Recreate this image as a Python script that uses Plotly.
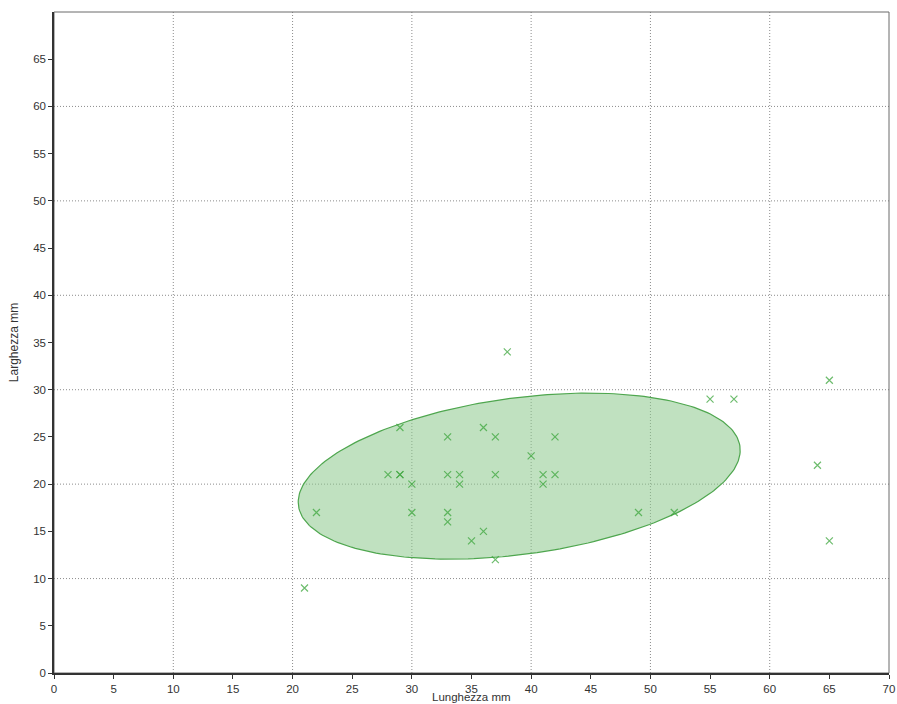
import numpy as np
import plotly.graph_objects as go

# Data (Lunghezza mm, Larghezza mm)
lunghezza = [21, 22, 28, 29, 29, 29, 30, 30, 33, 33, 33, 33, 34, 34, 35, 36, 36,
             37, 37, 37, 38, 40, 41, 41, 42, 42, 49, 52, 55, 57, 64, 65, 65]
larghezza = [9, 17, 21, 26, 21, 21, 20, 17, 25, 21, 17, 16, 21, 20, 14, 26, 15,
             25, 21, 12, 34, 23, 21, 20, 25, 21, 17, 17, 29, 29, 22, 31, 14]

x_ticks = list(range(0, 75, 5))
y_ticks = list(range(0, 70, 5))
grid_vals = [10, 20, 30, 40, 50, 60]
ellipse_scale = 1.6

# Covariance ellipse computed from the data
xa = np.array(lunghezza, float)
ya = np.array(larghezza, float)
cov = np.cov(xa, ya)
vals, vecs = np.linalg.eigh(cov)
t = np.linspace(0, 2 * np.pi, 241)
circle = np.vstack([np.cos(t), np.sin(t)])
pts = vecs @ (np.sqrt(vals)[:, None] * circle) * ellipse_scale
ex = pts[0] + xa.mean()
ey = pts[1] + ya.mean()

fig = go.Figure()
fig.add_trace(go.Scatter(
    x=ex, y=ey, mode="lines", fill="toself",
    fillcolor="rgba(140,200,140,0.55)",
    line=dict(color="#4ea64e", width=1.2),
    hoverinfo="skip", showlegend=False))
fig.add_trace(go.Scatter(
    x=lunghezza, y=larghezza, mode="markers",
    marker=dict(symbol="x-thin", size=7,
                line=dict(width=1.2, color="rgba(60,165,60,0.75)"),
                color="rgba(60,165,60,0.75)"),
    showlegend=False))

grid_line = dict(color="#8c8c8c", width=1, dash="1px,2px")
shapes = []
for g in grid_vals:
    shapes.append(dict(type="line", xref="x", yref="paper", x0=g, x1=g, y0=0, y1=1,
                       line=grid_line, layer="below"))
    shapes.append(dict(type="line", xref="paper", yref="y", x0=0, x1=1, y0=g, y1=g,
                       line=grid_line, layer="below"))
shapes.append(dict(type="rect", xref="paper", yref="paper", x0=0, x1=1, y0=0, y1=1,
                   line=dict(color="#6a6a6a", width=1), layer="below"))

font = dict(family="Liberation Sans, Arial, sans-serif", size=12, color="#333333")
tick_font = dict(family="Liberation Sans, Arial, sans-serif", size=11.5, color="#333333")
fig.update_layout(
    width=897, height=704,
    margin=dict(l=54, r=8, t=12, b=31),
    plot_bgcolor="white", paper_bgcolor="white",
    font=font,
    shapes=shapes,
    annotations=[dict(text="Lunghezza mm", xref="paper", yref="paper", x=0.5, y=0,
                      xanchor="center", yanchor="top", yshift=-16.5, borderpad=0,
                      showarrow=False, font=tick_font)],
    xaxis=dict(range=[0, 70], tickvals=x_ticks, ticks="outside", ticklen=4,
               tickcolor="#333333", showgrid=False, zeroline=False,
               showline=True, linecolor="#333333", linewidth=1.5,
               automargin=False, ticklabeloverflow="allow", tickfont=tick_font),
    yaxis=dict(range=[0, 70], tickvals=y_ticks, ticks="outside", ticklen=4,
               tickcolor="#333333", showgrid=False, zeroline=False,
               showline=True, linecolor="#333333", linewidth=1.5,
               automargin=False, ticklabeloverflow="allow", tickfont=tick_font,
               title=dict(text="Larghezza mm", standoff=12, font=font)),
)
fig.write_html(
    "out.html",
    config={"displayModeBar": False},
    post_script="document.documentElement.style.margin='0';"
                "document.body.style.margin='0';"
                "document.body.style.overflow='hidden';",
)
